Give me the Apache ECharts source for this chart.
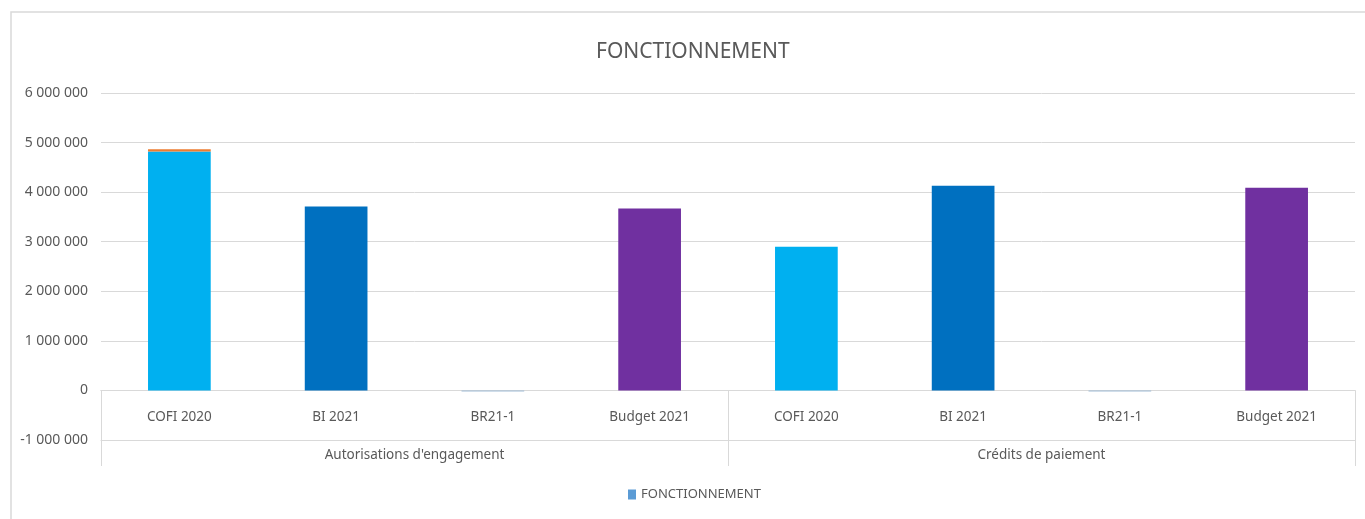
<!DOCTYPE html>
<html>
<head>
<meta charset="utf-8">
<script src="https://cdn.jsdelivr.net/npm/echarts@6/dist/echarts.min.js"></script>
<style>
  html, body { margin: 0; padding: 0; background: #fff; }
  #chart { width: 1365px; height: 519px; }
</style>
</head>
<body>
<div id="chart"></div>
<script>
// data
var categories = ['COFI 2020', 'BI 2021', 'BR21-1', 'Budget 2021', 'COFI 2020', 'BI 2021', 'BR21-1', 'Budget 2021'];
var groups = ["Autorisations d'engagement", 'Crédits de paiement'];
var fonctionnement = [4820000, 3710000, -20000, 3670000, 2900000, 4130000, -20000, 4090000];
var extra = [45000, null, null, null, null, null, null, null];
var barColors = ['#00B0F0', '#0070C0', '#9FBBD6', '#7030A0', '#00B0F0', '#0070C0', '#9FBBD6', '#7030A0'];

var FONT = 'Noto Sans';
var TXT = '#595959';
var GRID = '#d9d9d9';

var yMin = -1000000, yMax = 6000000;
var gridTop = 93, gridBottom = 79;
var plotH = 519 - gridTop - gridBottom;
// distance from the bottom of the plot up to the zero line
var zeroOffset = -plotH * (0 - yMin) / (yMax - yMin);

function fmt(v) {
    var s = String(Math.abs(v)).replace(/\B(?=(\d{3})+(?!\d))/g, ' ');
    return (v < 0 ? '-' : '') + s;
}

var chart = echarts.init(document.getElementById('chart'));

var option = {
    animation: false,
    textStyle: {fontFamily: FONT},
    title: {
        text: 'FONCTIONNEMENT',
        left: 591,
        top: 37,
        textStyle: {fontFamily: FONT, fontSize: 21, fontWeight: 'normal', color: TXT}
    },
    legend: {
        data: ['FONCTIONNEMENT'],
        bottom: 13,
        left: 623,
        itemWidth: 8,
        itemHeight: 10,
        itemGap: 5,
        icon: 'rect',
        textStyle: {fontFamily: FONT, fontSize: 13, color: TXT}
    },
    graphic: [{
        type: 'rect',
        shape: {x: 11, y: 12, width: 1360, height: 520},
        style: {fill: 'none', stroke: GRID, lineWidth: 1.5},
        silent: true
    }],
    grid: {left: 101, right: 10, top: gridTop, bottom: gridBottom},
    xAxis: [{
        type: 'category',
        data: categories,
        position: 'bottom',
        offset: zeroOffset,
        axisLine: {onZero: false, lineStyle: {color: GRID}},
        axisTick: {show: false},
        axisLabel: {margin: 20, fontFamily: FONT, fontSize: 13.5, color: TXT, interval: 0}
    }, {
        type: 'category',
        data: groups,
        position: 'bottom',
        axisLine: {onZero: false, lineStyle: {color: GRID}},
        axisTick: {show: true, length: 26, lineStyle: {color: GRID}},
        axisLabel: {margin: 8, fontFamily: FONT, fontSize: 13.5, color: TXT}
    }, {
        type: 'category',
        data: groups,
        position: 'bottom',
        offset: zeroOffset,
        axisLine: {onZero: false, lineStyle: {color: GRID}},
        axisTick: {show: true, length: -zeroOffset, lineStyle: {color: GRID}},
        axisLabel: {show: false}
    }],
    yAxis: {
        type: 'value',
        min: yMin,
        max: yMax,
        interval: 1000000,
        axisLine: {show: false},
        axisTick: {show: false},
        splitLine: {lineStyle: {color: GRID}},
        axisLabel: {margin: 13, fontFamily: FONT, fontSize: 14, color: TXT, formatter: fmt}
    },
    series: [{
        name: 'FONCTIONNEMENT',
        type: 'bar',
        stack: 'total',
        barWidth: '40%',
        itemStyle: {color: '#5B9BD5'},
        data: fonctionnement.map(function (v, i) {
            return {value: v, itemStyle: {color: barColors[i]}};
        })
    }, {
        name: 'Autre',
        type: 'bar',
        stack: 'total',
        barWidth: '40%',
        itemStyle: {color: '#ED7D31'},
        data: extra
    }]
};

chart.setOption(option);
</script>
</body>
</html>
